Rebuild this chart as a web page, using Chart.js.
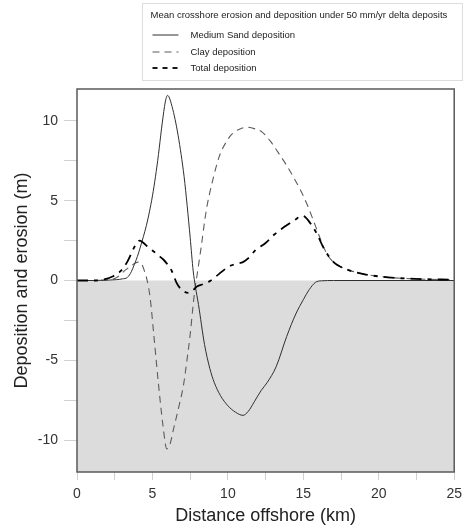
<!DOCTYPE html>
<html>
<head>
<meta charset="utf-8">
<script src="https://cdn.jsdelivr.net/npm/chart.js@4.4.1/dist/chart.umd.min.js"></script>
<style>
html,body{margin:0;padding:0;background:#fff;}
#wrap{width:468px;height:527px;position:relative;}
</style>
</head>
<body>
<div id="wrap"><canvas id="c" width="468" height="527"></canvas></div>
<script>
// ---- data ----
const legendTitle = "Mean crosshore erosion and deposition under 50 mm/yr delta deposits";
const seriesNames = ["Medium Sand deposition", "Clay deposition", "Total deposition"];

const sandKm  = [0,1,2,2.6,3.0,3.35,3.6,3.8,4.0,4.2,4.4,4.6,4.8,5.0,5.2,5.4,5.6,5.8,5.9,6.0,6.1,6.3,6.5,6.7,6.9,7.1,7.3,7.5,7.7,7.85,8.05,8.45,8.8,9.1,9.5,10.0,10.5,11.0,11.35,11.75,12.2,12.6,13.2,13.9,14.5,15.0,15.4,15.8,16.2,17,25];
const sandVal = [0,0,0.02,0.05,0.1,0.2,0.55,1.0,1.5,2.1,2.75,3.45,4.3,5.3,6.5,7.9,9.5,10.9,11.4,11.6,11.5,10.9,10.1,9.1,7.9,6.5,4.7,2.7,0.6,-0.4,-1.5,-4.0,-5.5,-6.4,-7.2,-7.85,-8.25,-8.45,-8.2,-7.6,-6.9,-6.4,-5.4,-3.5,-2.1,-1.2,-0.56,-0.12,-0.02,0,0];

const clayKm  = [0,1,2,2.6,3.2,3.8,4.05,4.3,4.5,4.65,4.85,5.1,5.4,5.7,5.95,6.15,6.4,6.7,7.05,7.3,7.5,7.7,7.85,7.95,8.2,8.57,9.0,9.44,9.9,10.3,10.8,11.3,11.8,12.27,12.8,13.36,13.9,14.45,14.9,15.3,15.65,15.97,16.3,16.6,17.0,17.5,18.0,19,20.6,22.4,25];
const clayVal = [0,0,0.05,0.17,0.65,1.05,1.15,1.0,0.5,0.0,-1.1,-3.5,-6.5,-9.1,-10.55,-10.3,-9.3,-8.1,-6.6,-4.9,-3.4,-1.5,-0.3,0.3,1.9,4.4,6.3,7.8,8.7,9.2,9.5,9.6,9.5,9.3,8.75,7.98,7.2,6.3,5.5,4.65,3.8,3.0,2.2,1.6,1.15,0.85,0.65,0.4,0.2,0.1,0.05];

const totalKm  = [0,1,1.8,2.4,2.9,3.35,3.7,3.95,4.15,4.35,4.7,4.98,5.35,5.74,6.0,6.29,6.6,6.85,7.05,7.38,7.65,7.92,8.3,8.8,9.4,10.1,10.6,11.0,11.3,11.83,12.5,13.1,13.8,14.45,14.9,15.1,15.3,15.6,15.86,16.4,17.06,17.5,18.0,19,20.6,22.4,25];
const totalVal = [0,0,0.07,0.27,0.6,1.2,1.9,2.35,2.5,2.4,2.1,1.9,1.6,1.3,1.0,0.58,-0.15,-0.5,-0.67,-0.77,-0.65,-0.4,-0.25,-0.04,0.4,0.9,1.05,1.15,1.35,1.9,2.35,2.9,3.4,3.8,4.06,4.0,3.8,3.4,3.0,1.94,1.1,0.85,0.65,0.4,0.2,0.1,0.05];

const xTickValues = [0,2.5,5,7.5,10,12.5,15,17.5,20,22.5,25];
const yTickValues = [-10,-7.5,-5,-2.5,0,2.5,5,7.5,10];
const xRange = [0,25];
const yRange = [-12,12];

const pts = (xs, ys) => xs.map((x,i)=>({x:x, y:ys[i]}));
const FONT = "'Liberation Sans', Arial, sans-serif";

const frameAndLegend = {
  id:'frameAndLegend',
  afterDatasetsDraw(chart){
    const {ctx, chartArea:a} = chart;
    ctx.save();
    ctx.strokeStyle = '#5a5a5a';
    ctx.lineWidth = 1.5;
    ctx.strokeRect(a.left, a.top, a.right-a.left, a.bottom-a.top);
    ctx.restore();
  },
  afterDraw(chart){
    const ctx = chart.ctx;
    const box = {x:142.5, y:3.5, w:320, h:77};
    ctx.save();
    ctx.strokeStyle = '#dddddd';
    ctx.lineWidth = 1;
    ctx.strokeRect(box.x, box.y, box.w, box.h);
    ctx.fillStyle = '#222';
    ctx.font = '9.5px ' + FONT;
    ctx.textBaseline = 'middle';
    ctx.textAlign = 'left';
    ctx.fillText(legendTitle, box.x + 8, box.y + 12);
    const rows = [35, 52, 68];
    for (let i=0;i<3;i++){
      const ds = chart.data.datasets[i];
      ctx.save();
      ctx.strokeStyle = ds.borderColor;
      ctx.lineWidth = ds.borderWidth;
      ctx.setLineDash(ds.legendDash || []);
      ctx.beginPath();
      ctx.moveTo(box.x + 10, rows[i]);
      ctx.lineTo(box.x + 36, rows[i]);
      ctx.stroke();
      ctx.restore();
      ctx.fillStyle = '#222';
      ctx.fillText(ds.label, box.x + 48, rows[i]);
    }
    ctx.restore();
  }
};

new Chart(document.getElementById('c'), {
  type:'line',
  data:{
    datasets:[
      {label:seriesNames[0], data:pts(sandKm,sandVal), borderColor:'#2f2f2f', borderWidth:1, pointRadius:0, fill:false, cubicInterpolationMode:'monotone', order:1},
      {label:seriesNames[1], data:pts(clayKm,clayVal), borderColor:'#5c5c5c', borderWidth:1.1, borderDash:[7,5], legendDash:[7,5], pointRadius:0, fill:false, cubicInterpolationMode:'monotone', order:2},
      {label:seriesNames[2], data:pts(totalKm,totalVal), borderColor:'#000', borderWidth:1.8, borderDash:[11,6,4,6], legendDash:[5,5], pointRadius:0, fill:false, cubicInterpolationMode:'monotone', order:0},
      {label:'zero', data:[{x:xRange[0],y:0},{x:xRange[1],y:0}], borderWidth:0, borderColor:'rgba(0,0,0,0)', backgroundColor:'#dcdcdc', pointRadius:0, fill:'start', order:10}
    ]
  },
  options:{
    responsive:false,
    animation:false,
    events:[],
    layout:{padding:{left:0,right:8,top:89,bottom:0}},
    plugins:{legend:{display:false}, tooltip:{enabled:false}},
    scales:{
      x:{
        type:'linear', min:xRange[0], max:xRange[1],
        afterBuildTicks:(s)=>{ s.ticks = xTickValues.map(v=>({value:v})); },
        afterFit:(s)=>{ s.height = 55; },
        ticks:{autoSkip:false, maxRotation:0, padding:6, color:'#333', font:{family:FONT, size:14},
               callback:(v)=> (v%5===0 ? String(v) : '')},
        grid:{drawOnChartArea:false, drawTicks:true, tickLength:8, color:'#d0d0d0'},
        border:{display:false},
        title:{display:true, text:'Distance offshore (km)', color:'#222', font:{family:FONT, size:18}, padding:{top:0,bottom:0}}
      },
      y:{
        type:'linear', min:yRange[0], max:yRange[1],
        afterBuildTicks:(s)=>{ s.ticks = yTickValues.map(v=>({value:v})); },
        afterFit:(s)=>{ s.width = 77; },
        ticks:{autoSkip:false, padding:6, color:'#333', font:{family:FONT, size:14},
               callback:(v)=> (v%5===0 ? String(v) : '')},
        grid:{drawOnChartArea:false, drawTicks:true, tickLength:13, color:'#d0d0d0'},
        border:{display:false},
        title:{display:true, text:'Deposition and erosion (m)', color:'#222', font:{family:FONT, size:18}, padding:{top:11,bottom:0}}
      }
    }
  },
  plugins:[frameAndLegend]
});
</script>
</body>
</html>
